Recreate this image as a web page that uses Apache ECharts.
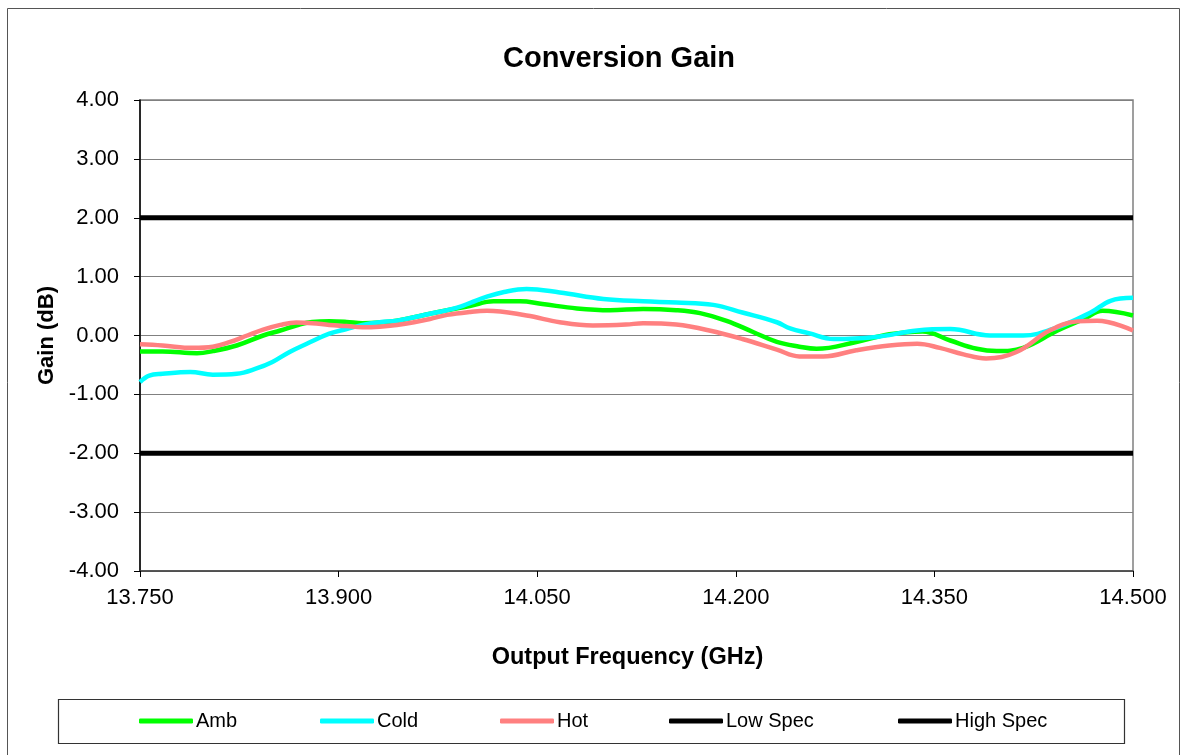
<!DOCTYPE html>
<html>
<head>
<meta charset="utf-8">
<script src="https://cdn.jsdelivr.net/npm/echarts@6/dist/echarts.min.js"></script>
<style>
html, body { margin: 0; padding: 0; background: #fff; }
#chart { width: 1187px; height: 755px; }
</style>
</head>
<body>
<div id="chart"></div>
<script>
// frequency (GHz), gain (dB)
var ambData = [
  [13.750,-0.27],[13.767,-0.27],[13.793,-0.30],[13.805,-0.265],[13.823,-0.17],[13.843,0.0],
  [13.856,0.085],[13.868,0.17],[13.880,0.23],[13.893,0.24],[13.906,0.23],[13.918,0.21],
  [13.931,0.22],[13.944,0.25],[13.957,0.31],[13.969,0.37],[13.982,0.43],[13.999,0.50],
  [14.017,0.58],[14.037,0.58],[14.054,0.535],[14.080,0.46],[14.105,0.43],[14.130,0.45],
  [14.155,0.43],[14.173,0.38],[14.193,0.25],[14.213,0.06],[14.231,-0.11],[14.248,-0.19],
  [14.261,-0.225],[14.291,-0.11],[14.316,0.02],[14.341,0.07],[14.362,-0.085],[14.382,-0.225],
  [14.397,-0.265],[14.417,-0.21],[14.443,0.085],[14.463,0.28],[14.477,0.42],[14.500,0.34]
];
var coldData = [
  [13.750,-0.79],[13.757,-0.68],[13.767,-0.65],[13.788,-0.62],[13.805,-0.665],[13.823,-0.65],
  [13.838,-0.56],[13.850,-0.45],[13.863,-0.28],[13.876,-0.14],[13.893,0.03],[13.906,0.11],
  [13.918,0.18],[13.931,0.225],[13.944,0.25],[13.957,0.31],[13.969,0.37],[13.982,0.43],
  [13.992,0.49],[14.000,0.56],[14.012,0.66],[14.025,0.74],[14.042,0.79],[14.067,0.73],
  [14.100,0.62],[14.130,0.58],[14.155,0.56],[14.183,0.52],[14.205,0.39],[14.231,0.225],
  [14.241,0.12],[14.255,0.04],[14.274,-0.06],[14.304,-0.03],[14.337,0.085],[14.362,0.11],
  [14.392,0.0],[14.417,0.0],[14.443,0.14],[14.468,0.39],[14.483,0.59],[14.500,0.64]
];
var hotData = [
  [13.750,-0.15],[13.767,-0.17],[13.790,-0.21],[13.805,-0.19],[13.818,-0.11],[13.831,0.0],
  [13.843,0.10],[13.856,0.18],[13.868,0.22],[13.880,0.21],[13.893,0.18],[13.906,0.16],
  [13.918,0.14],[13.931,0.15],[13.944,0.18],[13.957,0.225],[13.969,0.28],[13.982,0.35],
  [13.999,0.40],[14.012,0.42],[14.042,0.34],[14.067,0.225],[14.092,0.17],[14.117,0.185],
  [14.130,0.21],[14.155,0.185],[14.180,0.085],[14.205,-0.06],[14.231,-0.24],[14.248,-0.355],
  [14.266,-0.355],[14.291,-0.25],[14.316,-0.17],[14.337,-0.14],[14.354,-0.21],[14.372,-0.32],
  [14.389,-0.39],[14.412,-0.28],[14.437,0.085],[14.458,0.24],[14.473,0.25],[14.500,0.085]
];
var lowSpec = [[13.750,-2],[14.500,-2]];
var highSpec = [[13.750,2],[14.500,2]];

var seriesNames = ['Amb', 'Cold', 'Hot', 'Low Spec', 'High Spec'];
var seriesColors = ['#00ff00', '#00ffff', '#ff8080', '#000000', '#000000'];
var legendLeft = [139, 320, 500, 669, 898];

var fStart = 13.75; // axis starts here; x is plotted as MHz offset
function toOffset(arr) {
  return arr.map(function (p) { return [Math.round((p[0] - fStart) * 100000) / 100, p[1]]; });
}

var font = "'Liberation Sans', Arial, sans-serif";
var allData = [ambData, coldData, hotData, lowSpec, highSpec];

var series = seriesNames.map(function (name, i) {
  return {
    name: name,
    type: 'line',
    data: toOffset(allData[i]),
    smooth: i < 3 ? 0.4 : false,
    showSymbol: false,
    symbol: 'none',
    z: i < 3 ? 3 : 2,
    lineStyle: { color: seriesColors[i], width: i < 3 ? 4.5 : 5 },
    itemStyle: { color: seriesColors[i] }
  };
});

var legends = seriesNames.map(function (name, i) {
  return {
    data: [name],
    left: legendLeft[i],
    top: 711,
    padding: 0,
    itemWidth: 54,
    itemHeight: 5,
    itemGap: 0,
    icon: 'roundRect',
    textStyle: { fontFamily: font, fontSize: 20, color: '#000', padding: [0, 0, 0, -2] }
  };
});

var option = {
  animation: false,
  backgroundColor: '#fff',
  title: {
    text: 'Conversion Gain',
    left: 503,
    top: 44,
    padding: 0,
    textStyle: { fontFamily: font, fontSize: 29, fontWeight: 'bold', color: '#000' }
  },
  legend: legends,
  graphic: [
    { type: 'rect', shape: { x: 7.5, y: 8.5, width: 1172, height: 760 },
      style: { fill: null, stroke: '#555', lineWidth: 1 }, silent: true },
    { type: 'rect', shape: { x: 58.5, y: 699.5, width: 1066, height: 44 },
      style: { fill: null, stroke: '#333', lineWidth: 1.2 }, silent: true, z: -1 }
  ],
  grid: {
    left: 140, right: 54, top: 100, bottom: 184,
    show: true, borderColor: '#808080', borderWidth: 1.5
  },
  xAxis: {
    type: 'value',
    min: 0, max: 750, interval: 150,
    name: 'Output Frequency (GHz)',
    nameLocation: 'middle',
    nameGap: 75,
    nameTextStyle: { fontFamily: font, fontSize: 23.5, fontWeight: 'bold', color: '#000', padding: [0, 18, 0, 0] },
    axisLine: { show: true, onZero: false, lineStyle: { color: '#404040', width: 1.5 } },
    axisTick: { show: true, length: 6, lineStyle: { color: '#000' } },
    axisLabel: {
      margin: 16,
      fontFamily: font, fontSize: 22, color: '#000',
      formatter: function (v) { return (fStart + v / 1000).toFixed(3); }
    },
    splitLine: { show: false }
  },
  yAxis: {
    type: 'value',
    min: -4, max: 4, interval: 1,
    name: 'Gain (dB)',
    nameLocation: 'middle',
    nameGap: 71,
    nameTextStyle: { fontFamily: font, fontSize: 22, fontWeight: 'bold', color: '#000' },
    axisLine: { show: true, lineStyle: { color: '#000', width: 1.5 } },
    axisTick: { show: true, length: 6, lineStyle: { color: '#000' } },
    axisLabel: {
      margin: 21,
      fontFamily: font, fontSize: 22, color: '#000',
      formatter: function (v) { return v.toFixed(2); }
    },
    splitLine: { show: true, lineStyle: { color: '#808080', width: 1.2 } }
  },
  series: series
};

var chart = echarts.init(document.getElementById('chart'));
chart.setOption(option);
</script>
</body>
</html>
